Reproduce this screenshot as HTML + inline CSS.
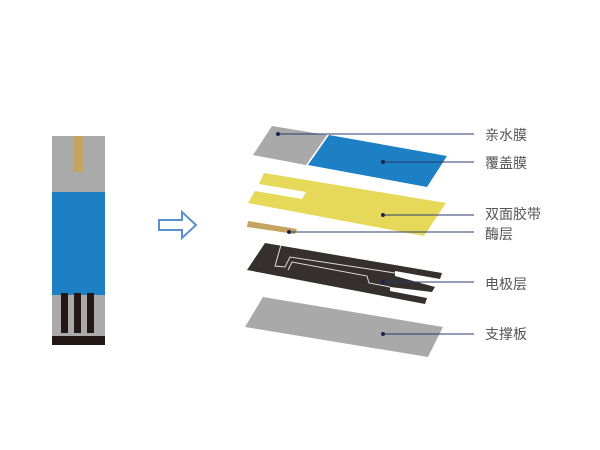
<!DOCTYPE html>
<html><head><meta charset="utf-8"><style>
html,body{margin:0;padding:0;background:#fff;}
svg{display:block}
text{font-family:"Liberation Sans","Noto Sans CJK SC",sans-serif;font-size:14px;fill:#555;}
</style></head><body>
<svg width="600" height="450" viewBox="0 0 600 450">
<!-- strip -->
<rect x="52" y="136" width="53" height="209" fill="#aaa"/>
<rect x="74" y="136" width="9" height="36" fill="#c4a460"/>
<rect x="52" y="192" width="53" height="103" fill="#1d7fc4"/>
<rect x="61" y="293" width="7" height="40" fill="#231815"/>
<rect x="74" y="293" width="7" height="40" fill="#231815"/>
<rect x="87" y="293" width="7" height="40" fill="#231815"/>
<rect x="52" y="336" width="53" height="9" fill="#231815"/>
<!-- arrow -->
<polygon points="159,220 182,220 182,212 196,225 182,238 182,230 159,230" fill="#fff" stroke="#5b8fd0" stroke-width="2"/>
<!-- layers -->
<polygon points="272,126 327,135 306,165 253,155" fill="#a9a9a9"/>
<polygon points="329,135 447,156 427,187 308,165" fill="#1d7fc4"/>
<polygon points="264,173 446,203 424,236 248,203 255,191 302,199 306,192 259,184" fill="#e6d95a"/>
<polygon points="248,221 297,229 295,234 247,227" fill="#c4a460"/>
<polygon points="265,243 442,273 440,279 395,271 395,276 435,287 432,292 390,287 390,291 427,298 425,304 247,270" fill="#35302d"/>
<polyline points="281,245 275,266 285,267 290,257 395,273" fill="none" stroke="#ddd" stroke-width="1"/>
<polyline points="288,270 292,262 367,276 369,283 390,287" fill="none" stroke="#ddd" stroke-width="1"/>
<polygon points="263,297 443,327 428,357 245,327" fill="#a9a9a9"/>
<!-- leaders -->
<g stroke="#2b3a6b" stroke-width="1">
<line x1="278" y1="134" x2="474" y2="134"/>
<line x1="383" y1="162" x2="474" y2="162"/>
<line x1="383" y1="215" x2="474" y2="215"/>
<line x1="289" y1="232" x2="474" y2="232"/>
<line x1="383" y1="282" x2="474" y2="282"/>
<line x1="383" y1="334" x2="474" y2="334"/>
</g>
<g fill="#1a2450">
<circle cx="278" cy="134" r="2"/><circle cx="383" cy="162" r="2"/><circle cx="383" cy="215" r="2"/>
<circle cx="289" cy="232" r="2"/><circle cx="383" cy="282" r="2"/><circle cx="383" cy="334" r="2"/>
</g>
<text x="485" y="140">亲水膜</text>
<text x="485" y="168">覆盖膜</text>
<text x="485" y="219">双面胶带</text>
<text x="485" y="239">酶层</text>
<text x="485" y="289">电极层</text>
<text x="485" y="339">支撑板</text>
</svg>
</body></html>
